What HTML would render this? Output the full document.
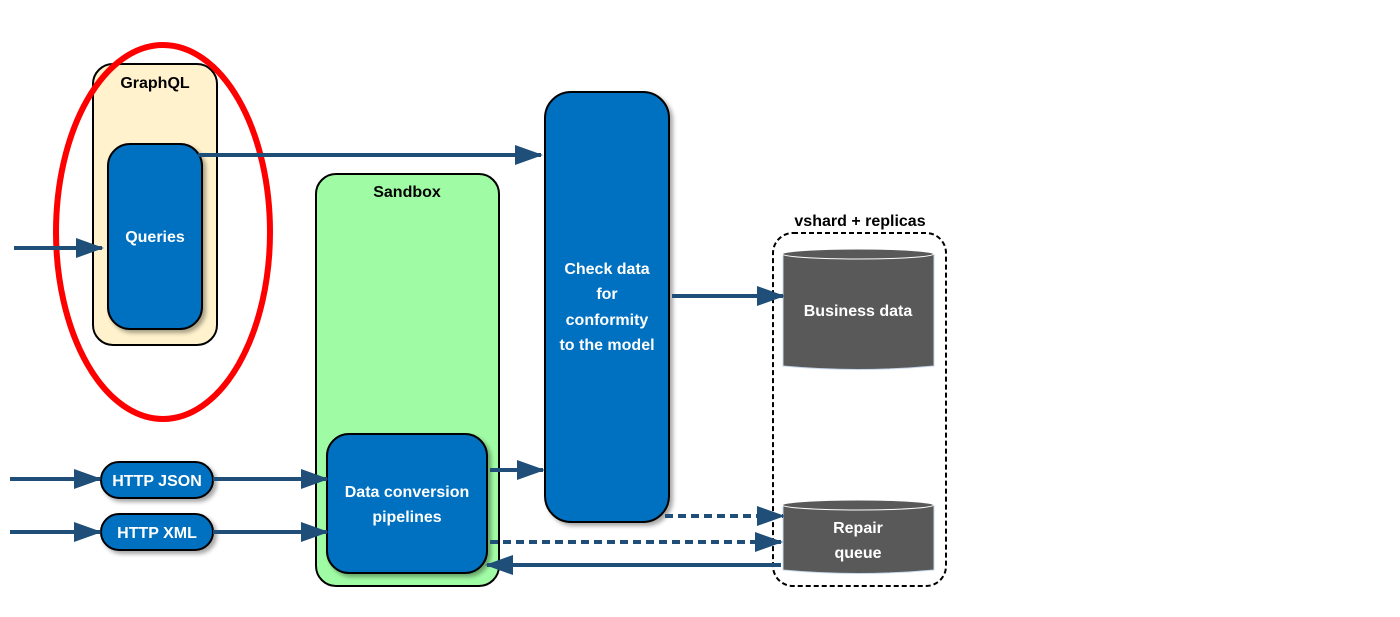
<!DOCTYPE html>
<html><head><meta charset="utf-8"><style>
html,body{margin:0;padding:0;background:#fff;}
svg{display:block;}
text{font-family:"Liberation Sans",sans-serif;font-weight:bold;}
</style></head><body>
<svg width="1400" height="617" viewBox="0 0 1400 617" xmlns="http://www.w3.org/2000/svg">
<defs>
<marker id="ah" markerWidth="7" markerHeight="5" refX="6.5" refY="2.5" orient="auto" markerUnits="strokeWidth">
<path d="M0,0 L7,2.5 L0,5 z" fill="#1f4e79"/></marker>
<filter id="sh" x="-10%" y="-10%" width="130%" height="130%"><feDropShadow dx="3" dy="3" stdDeviation="2" flood-color="#000" flood-opacity="0.35"/></filter>
</defs>
<!-- GraphQL -->
<rect x="93" y="64" width="124" height="281" rx="20" fill="#fff2cc" stroke="#000" stroke-width="2"/>
<text x="155" y="88" font-size="16" text-anchor="middle" fill="#000">GraphQL</text>
<rect x="108" y="144" width="94" height="185" rx="22" fill="#0070c0" stroke="#000" stroke-width="2" filter="url(#sh)"/>
<text x="155" y="242" font-size="16" text-anchor="middle" fill="#fff">Queries</text>
<ellipse cx="163" cy="232" rx="107" ry="187" fill="none" stroke="#ff0000" stroke-width="6"/>
<!-- Sandbox -->
<rect x="316" y="174" width="183" height="412" rx="20" fill="#a0fca4" stroke="#000" stroke-width="2"/>
<text x="407" y="197" font-size="16" text-anchor="middle" fill="#000">Sandbox</text>
<rect x="327" y="434" width="160" height="139" rx="22" fill="#0070c0" stroke="#000" stroke-width="2" filter="url(#sh)"/>
<text x="407" y="497" font-size="16" text-anchor="middle" fill="#fff">Data conversion</text>
<text x="407" y="522" font-size="16" text-anchor="middle" fill="#fff">pipelines</text>
<!-- HTTP -->
<rect x="101" y="462" width="112" height="36" rx="18" fill="#0070c0" stroke="#000" stroke-width="2" filter="url(#sh)"/>
<text x="157" y="486" font-size="16" text-anchor="middle" fill="#fff">HTTP JSON</text>
<rect x="101" y="514" width="112" height="36" rx="18" fill="#0070c0" stroke="#000" stroke-width="2" filter="url(#sh)"/>
<text x="157" y="538" font-size="16" text-anchor="middle" fill="#fff">HTTP XML</text>
<!-- Check -->
<rect x="545" y="92" width="124" height="430" rx="26" fill="#0070c0" stroke="#000" stroke-width="2" filter="url(#sh)"/>
<text x="607" y="274" font-size="16" text-anchor="middle" fill="#fff">Check data</text>
<text x="607" y="299" font-size="16" text-anchor="middle" fill="#fff">for</text>
<text x="607" y="325" font-size="16" text-anchor="middle" fill="#fff">conformity</text>
<text x="607" y="350" font-size="16" text-anchor="middle" fill="#fff">to the model</text>
<!-- vshard -->
<rect x="773" y="233" width="173" height="353" rx="20" fill="none" stroke="#000" stroke-width="2" stroke-dasharray="5,3"/>
<text x="860" y="226" font-size="16" text-anchor="middle" fill="#000">vshard + replicas</text>
<path d="M783,254 L783,366 Q858,373 934,366 L934,254" fill="#595959" stroke="#c8d8ec" stroke-width="1"/>
<ellipse cx="858" cy="254" rx="75.5" ry="5" fill="#595959" stroke="#fff" stroke-width="1"/>
<text x="858" y="316" font-size="16" text-anchor="middle" fill="#fff">Business data</text>
<path d="M783,505 L783,570 Q858,577 934,570 L934,505" fill="#595959" stroke="#c8d8ec" stroke-width="1"/>
<ellipse cx="858" cy="505" rx="75.5" ry="5" fill="#595959" stroke="#fff" stroke-width="1"/>
<text x="858" y="533" font-size="16" text-anchor="middle" fill="#fff">Repair</text>
<text x="858" y="558" font-size="16" text-anchor="middle" fill="#fff">queue</text>
<!-- arrows -->
<g stroke="#1f4e79" stroke-width="4" fill="none">
<line x1="14" y1="248" x2="102" y2="248" marker-end="url(#ah)"/>
<line x1="198" y1="155" x2="541" y2="155" marker-end="url(#ah)"/>
<line x1="10" y1="479" x2="100" y2="479" marker-end="url(#ah)"/>
<line x1="10" y1="532" x2="100" y2="532" marker-end="url(#ah)"/>
<line x1="213" y1="479" x2="327" y2="479" marker-end="url(#ah)"/>
<line x1="213" y1="532" x2="327" y2="532" marker-end="url(#ah)"/>
<line x1="490" y1="470" x2="543" y2="470" marker-end="url(#ah)"/>
<line x1="672" y1="296" x2="783" y2="296" marker-end="url(#ah)"/>
<line x1="665" y1="516" x2="783" y2="516" stroke-dasharray="8,5" marker-end="url(#ah)"/>
<line x1="490" y1="542" x2="781" y2="542" stroke-dasharray="8,5" marker-end="url(#ah)"/>
<line x1="781" y1="565" x2="487" y2="565" marker-end="url(#ah)"/>
</g>
</svg>
</body></html>
